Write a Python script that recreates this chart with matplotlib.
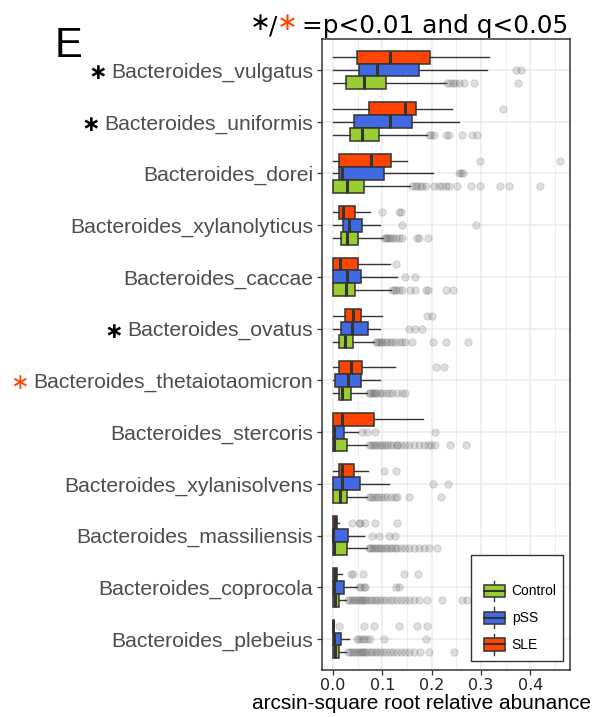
import matplotlib
matplotlib.use("Agg")
import matplotlib.pyplot as plt
from matplotlib.legend_handler import HandlerBase
from matplotlib.patches import Rectangle, Patch
from matplotlib.lines import Line2D
from matplotlib.ticker import MultipleLocator

# ---------------- data ----------------
categories = ["Bacteroides_vulgatus", "Bacteroides_uniformis", "Bacteroides_dorei",
              "Bacteroides_xylanolyticus", "Bacteroides_caccae", "Bacteroides_ovatus",
              "Bacteroides_thetaiotaomicron", "Bacteroides_stercoris",
              "Bacteroides_xylanisolvens", "Bacteroides_massiliensis",
              "Bacteroides_coprocola", "Bacteroides_plebeius"]
star_black = ["Bacteroides_vulgatus", "Bacteroides_uniformis", "Bacteroides_ovatus"]
star_red = ["Bacteroides_thetaiotaomicron"]
groups = ["Control", "pSS", "SLE"]

sle_whislo = [0, 0, 0, 0, 0, 0, 0, 0, 0, 0, 0, 0]
sle_q1 = [0.049, 0.073, 0.013, 0.012, 0.0, 0.024, 0.013, 0.0, 0.012, 0.0, 0.0, 0.0]
sle_med = [0.115, 0.146, 0.078, 0.021, 0.015, 0.040, 0.037, 0.018, 0.019, 0.005, 0.005, 0.0]
sle_q3 = [0.196, 0.169, 0.117, 0.045, 0.051, 0.057, 0.059, 0.084, 0.043, 0.009, 0.009, 0.002]
sle_whishi = [0.316, 0.242, 0.150, 0.076, 0.115, 0.100, 0.126, 0.182, 0.071, 0.012, 0.019, 0.002]
sle_fliers = [[], [0.345], [0.298, 0.460], [0.100, 0.134, 0.137], [0.128], [0.190, 0.201],
              [0.208, 0.225], [], [0.103, 0.128],
              [0.039, 0.052, 0.054, 0.066, 0.085, 0.130],
              [0.036, 0.041, 0.061, 0.144, 0.172],
              [0.012, 0.063, 0.083, 0.134, 0.171, 0.190]]

pss_whislo = [0, 0, 0, 0, 0, 0, 0, 0, 0, 0, 0, 0]
pss_q1 = [0.053, 0.043, 0.013, 0.021, 0.0, 0.017, 0.005, 0.0, 0.0, 0.0, 0.0, 0.0]
pss_med = [0.090, 0.115, 0.019, 0.032, 0.028, 0.038, 0.031, 0.002, 0.019, 0.001, 0.002, 0.002]
pss_q3 = [0.175, 0.160, 0.103, 0.059, 0.057, 0.071, 0.057, 0.022, 0.054, 0.030, 0.022, 0.016]
pss_whishi = [0.312, 0.255, 0.202, 0.095, 0.129, 0.096, 0.095, 0.050, 0.113, 0.063, 0.048, 0.032]
pss_fliers = [[0.370, 0.380], [], [0.255, 0.260, 0.264], [0.140, 0.290], [0.147, 0.166],
              [0.154, 0.167, 0.181], [], [0.059, 0.069, 0.086, 0.206], [0.202, 0.233],
              [0.080, 0.093, 0.113, 0.125],
              [0.052, 0.057, 0.063, 0.066, 0.127, 0.134],
              [0.049, 0.053, 0.058, 0.063, 0.069, 0.076, 0.103, 0.188]]

ctl_whislo = [0, 0, 0, 0, 0, 0, 0, 0, 0, 0, 0, 0]
ctl_q1 = [0.027, 0.034, 0.0, 0.017, 0.0, 0.012, 0.012, 0.0, 0.0, 0.0, 0.0, 0.0]
ctl_med = [0.063, 0.059, 0.029, 0.029, 0.026, 0.024, 0.019, 0.002, 0.015, 0.002, 0.005, 0.005]
ctl_q3 = [0.107, 0.094, 0.064, 0.051, 0.045, 0.040, 0.036, 0.029, 0.029, 0.029, 0.012, 0.012]
ctl_whishi = [0.228, 0.190, 0.157, 0.102, 0.117, 0.083, 0.069, 0.069, 0.069, 0.069, 0.026, 0.026]
ctl_fliers = [
    [0.232, 0.238, 0.243, 0.248, 0.255, 0.265, 0.285, 0.375],
    [0.195, 0.198, 0.204, 0.228, 0.235, 0.262, 0.282, 0.292],
    [0.161, 0.166, 0.171, 0.177, 0.181, 0.188, 0.204, 0.215, 0.221, 0.228, 0.235,
     0.252, 0.279, 0.298, 0.339, 0.356, 0.420],
    [0.104, 0.107, 0.110, 0.113, 0.117, 0.122, 0.128, 0.134, 0.140, 0.171, 0.174, 0.193],
    [0.120, 0.124, 0.128, 0.133, 0.140, 0.157, 0.167, 0.189, 0.192, 0.230, 0.244],
    [0.087, 0.090, 0.093, 0.097, 0.100, 0.105, 0.110, 0.115, 0.120, 0.126, 0.133,
     0.140, 0.147, 0.160, 0.203, 0.229, 0.273],
    [0.073, 0.076, 0.080, 0.083, 0.086, 0.090, 0.095, 0.100, 0.107, 0.113, 0.120,
     0.130, 0.140, 0.147],
    [0.074, 0.078, 0.082, 0.086, 0.090, 0.095, 0.100, 0.105, 0.110, 0.116, 0.122,
     0.130, 0.130, 0.138, 0.146, 0.155, 0.165, 0.175, 0.185, 0.192, 0.199, 0.206,
     0.237, 0.270],
    [0.074, 0.078, 0.082, 0.087, 0.092, 0.098, 0.104, 0.110, 0.118, 0.125, 0.130,
     0.154, 0.219],
    [0.073, 0.076, 0.080, 0.084, 0.088, 0.092, 0.096, 0.100, 0.105, 0.110, 0.115,
     0.120, 0.125, 0.130, 0.137, 0.145, 0.155, 0.165, 0.175, 0.185, 0.195, 0.211],
    [0.030, 0.034, 0.038, 0.042, 0.046, 0.050, 0.054, 0.058, 0.062, 0.066, 0.070,
     0.075, 0.080, 0.085, 0.090, 0.096, 0.102, 0.108, 0.115, 0.122, 0.130, 0.138,
     0.146, 0.155, 0.165, 0.175, 0.190, 0.221, 0.262, 0.272],
    [0.030, 0.034, 0.038, 0.042, 0.046, 0.050, 0.054, 0.058, 0.062, 0.066, 0.070,
     0.075, 0.080, 0.085, 0.090, 0.096, 0.102, 0.108, 0.115, 0.122, 0.130, 0.138,
     0.146, 0.155, 0.165, 0.177, 0.194, 0.246],
]

colors = {"Control": "#9ACD32", "pSS": "#4169E1", "SLE": "#FF4500"}
offsets = {"SLE": -0.25, "pSS": 0.0, "Control": 0.25}
group_stats = {
    "SLE": (sle_whislo, sle_q1, sle_med, sle_q3, sle_whishi, sle_fliers),
    "pSS": (pss_whislo, pss_q1, pss_med, pss_q3, pss_whishi, pss_fliers),
    "Control": (ctl_whislo, ctl_q1, ctl_med, ctl_q3, ctl_whishi, ctl_fliers),
}

# ---------------- figure ----------------
W, H = 597, 717
fig = plt.figure(figsize=(W / 100, H / 100), dpi=100)
ax = fig.add_axes([322 / W, 1 - 670 / H, (570 - 322) / W, (670 - 39) / H])

edge = "#333333"
for g in ["SLE", "pSS", "Control"]:
    wl, q1, md, q3, wh, fl = group_stats[g]
    stats = []
    for i in range(len(categories)):
        stats.append(dict(whislo=wl[i], q1=q1[i], med=md[i], q3=q3[i], whishi=wh[i],
                          fliers=fl[i]))
    pos = [i + offsets[g] for i in range(len(categories))]
    ax.bxp(stats, positions=pos, widths=0.25, orientation="horizontal",
           patch_artist=True, showcaps=False, manage_ticks=False,
           boxprops=dict(facecolor=colors[g], edgecolor=edge, linewidth=1.1),
           medianprops=dict(color=edge, linewidth=2.2, solid_capstyle="butt"),
           whiskerprops=dict(color=edge, linewidth=1.0),
           flierprops=dict(marker="o", markersize=5.3,
                           markerfacecolor=(0.3, 0.3, 0.3, 0.18),
                           markeredgecolor=(0.3, 0.3, 0.3, 0.22),
                           markeredgewidth=0.6, linestyle="none"))

ax.set_xlim(-0.022, 0.48)
ax.set_ylim(len(categories) - 0.4, -0.6)
ax.set_yticks(range(len(categories)))
ax.set_yticklabels(categories, fontsize=15.2, color="#4D4D4D", family="Liberation Sans")
ax.xaxis.set_major_locator(MultipleLocator(0.1))
ax.xaxis.set_minor_locator(MultipleLocator(0.05))
ax.set_xticks([0.0, 0.1, 0.2, 0.3, 0.4])
ax.set_xticklabels(["0.0", "0.1", "0.2", "0.3", "0.4"], fontsize=11.5,
                   color="#222222", family="DejaVu Sans")
ax.grid(True, which="major", color="#EBEBEB", linewidth=1.1)
ax.grid(True, which="minor", axis="x", color="#EBEBEB", linewidth=0.6)
ax.set_axisbelow(True)
ax.tick_params(axis="both", which="major", length=3.5, width=0.9, color=edge, pad=3)
ax.tick_params(axis="x", which="major", pad=2)
ax.tick_params(axis="x", which="minor", length=0)
for s in ax.spines.values():
    s.set_color(edge)
    s.set_linewidth(1.1)

# x-axis title (placed as in the reference, slightly left of panel centre)
fig.text(252 / W, 1 - 709 / H, "arcsin-square root relative abunance", fontsize=15,
         family="Liberation Sans", color="black", ha="left", va="baseline")


# legend with boxplot keys
class BoxHandler(HandlerBase):
    def create_artists(self, legend, orig_handle, xdescent, ydescent, width, height,
                       fontsize, trans):
        bw = width * 0.75
        x0 = -xdescent + width - bw
        bh = height * 0.6
        y0 = -ydescent + (height - bh) / 2
        cx = x0 + bw / 2
        cy = -ydescent + height / 2
        wl1 = Line2D([cx, cx], [-ydescent, y0], color=edge, linewidth=1.0, transform=trans)
        wl2 = Line2D([cx, cx], [y0 + bh, -ydescent + height], color=edge, linewidth=1.0,
                     transform=trans)
        r = Rectangle((x0, y0), bw, bh, facecolor=orig_handle.get_facecolor(),
                      edgecolor=edge, linewidth=1.1, transform=trans)
        m = Line2D([x0, x0 + bw], [cy, cy], color=edge, linewidth=1.5, transform=trans)
        return [wl1, wl2, r, m]


handles = [Patch(facecolor=colors[g]) for g in groups]
leg = ax.legend(handles, groups, handler_map={Patch: BoxHandler()},
                loc="lower right", bbox_to_anchor=((563 - 322) / 248, (670 - 661) / 631),
                frameon=True, fancybox=False, framealpha=1, edgecolor=edge,
                prop=dict(family="Liberation Sans", size=10), handlelength=2.0,
                handleheight=1.9, handletextpad=0.5, labelspacing=0.45, borderpad=0.45,
                title=" ", title_fontproperties=dict(size=9), borderaxespad=0)
leg.get_frame().set_linewidth(1.0)

# panel label
fig.text(55 / W, 1 - 57 / H, "E", fontsize=30, family="Liberation Sans",
         ha="left", va="baseline")

# title composed of pieces
fig.canvas.draw()
renderer = fig.canvas.get_renderer()
t_main = fig.text(568 / W, 1 - 33 / H, "=p<0.01 and q<0.05", fontsize=17.8,
                  family="DejaVu Sans", ha="right", va="baseline")
bb = t_main.get_window_extent(renderer)
t_red = fig.text((bb.x0 - 4) / W, 1 - 30 / H, "\u2217", fontsize=18, color="#FF4500",
                 family="DejaVu Sans", ha="right", va="baseline")
bb2 = t_red.get_window_extent(renderer)
t_sl = fig.text((bb2.x0 + 1) / W, 1 - 33 / H, "/", fontsize=17.8, color="black",
                family="DejaVu Sans", ha="right", va="baseline")
bb3 = t_sl.get_window_extent(renderer)
fig.text((bb3.x0 + 1) / W, 1 - 30 / H, "\u2217", fontsize=18, color="black",
         family="DejaVu Sans", ha="right", va="baseline")

# stars beside the y labels
for lab in ax.get_yticklabels():
    name = lab.get_text()
    if name in star_black:
        lb = lab.get_window_extent(renderer)
        fig.text((lb.x0 - 4) / W, ((lb.y0 + lb.y1) / 2 - 1) / H, "\u2217",
                 fontsize=16, color="black", family="DejaVu Sans", fontweight="bold",
                 ha="right", va="center")
    elif name in star_red:
        lb = lab.get_window_extent(renderer)
        fig.text((lb.x0 - 5) / W, ((lb.y0 + lb.y1) / 2 - 1) / H, "\u2217",
                 fontsize=16, color="#FF4500", family="DejaVu Sans",
                 ha="right", va="center")

fig.savefig("out.png", dpi=100)
